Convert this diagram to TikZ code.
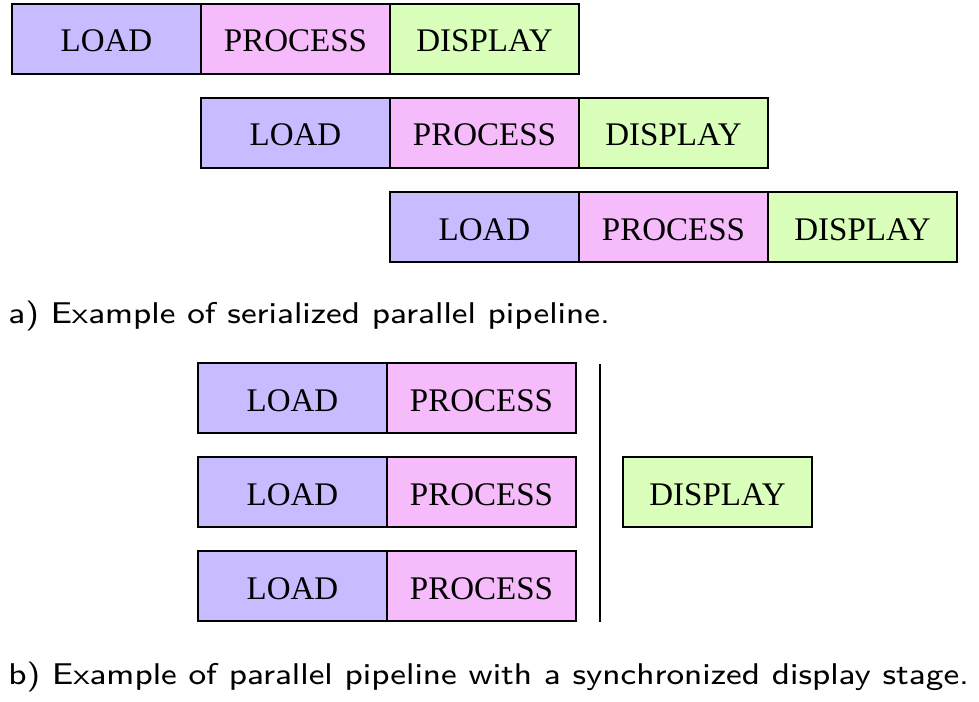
\documentclass[tikz,border=0pt]{standalone}
\usepackage{graphicx}
\usepackage{fontspec}
\newfontfamily\boxfont{Liberation Serif}
\definecolor{loadc}{HTML}{C8BBFF}
\definecolor{procc}{HTML}{F5BBFB}
\definecolor{dispc}{HTML}{D9FFBB}
\newcommand{\captxt}[1]{\scalebox{2.076}[1.875]{\sffamily\fontsize{8}{10}\selectfont #1}}
\begin{document}
\begin{tikzpicture}[x=0.5pt,y=-0.5pt,
  stage/.style={draw, line width=1pt, minimum width=94.5pt, minimum height=35pt, inner sep=0pt, outer sep=0pt, text height=13pt, text depth=0pt, anchor=north west, font=\boxfont\fontsize{16.5}{20}\selectfont},
  ld/.style={stage, fill=loadc},
  pr/.style={stage, fill=procc},
  dp/.style={stage, fill=dispc},
  captext/.style={anchor=west, inner sep=0pt}]
\useasboundingbox (0,0) rectangle (979,701);
% a)
\node[ld] (l1) at (12,4) {LOAD};
\node[pr] (p1) at (201,4) {PROCESS};
\node[dp] (d1) at (390,4) {DISPLAY};
\node[ld] (l2) at (201,98) {LOAD};
\node[pr] (p2) at (390,98) {PROCESS};
\node[dp] (d2) at (579,98) {DISPLAY};
\node[ld] (l3) at (390,192) {LOAD};
\node[pr] (p3) at (579,192) {PROCESS};
\node[dp] (d3) at (768,192) {DISPLAY};
\node[captext] (ca) at (8,316) {\captxt{a) Example of serialized parallel pipeline.}};
% b)
\node[ld] (bl1) at (198,363) {LOAD};
\node[pr] (bp1) at (387,363) {PROCESS};
\node[ld] (bl2) at (198,457) {LOAD};
\node[pr] (bp2) at (387,457) {PROCESS};
\node[ld] (bl3) at (198,551) {LOAD};
\node[pr] (bp3) at (387,551) {PROCESS};
\node[dp] (bd) at (623,457) {DISPLAY};
\coordinate (vt) at (600,364);
\coordinate (vb) at (600,622);
\draw[line width=1pt] (vt) -- (vb);
\node[captext] (cb) at (8,677) {\captxt{b) Example of parallel pipeline with a synchronized display stage.}};
\end{tikzpicture}
\end{document}
